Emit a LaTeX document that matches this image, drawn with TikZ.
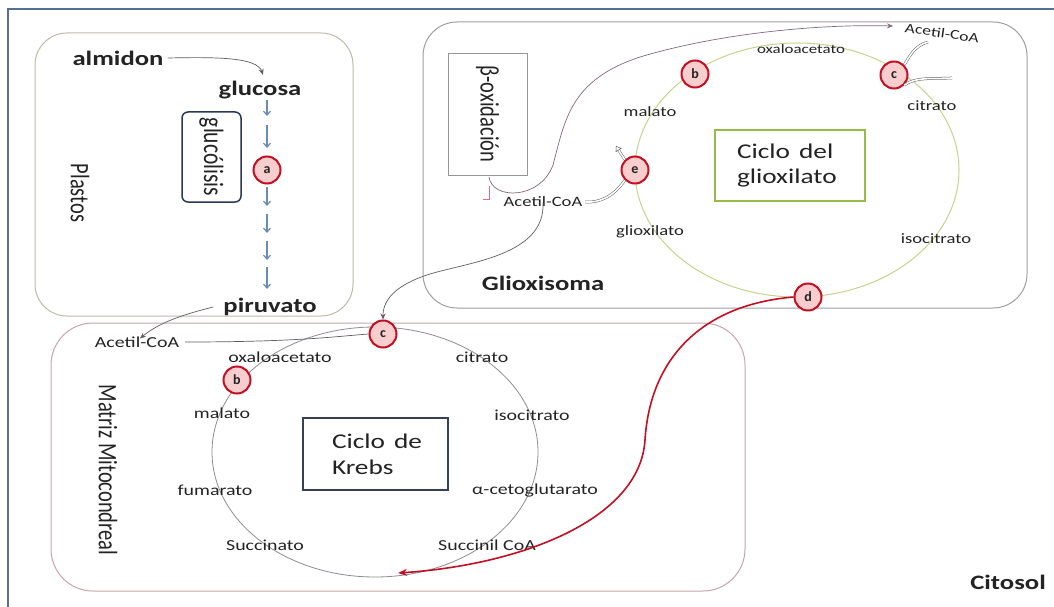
\documentclass[tikz,border=0pt]{standalone}
\usepackage{fontspec}
\setmainfont{Carlito}
\usetikzlibrary{arrows.meta}
\newcommand{\hs}[1]{\scalebox{1.3}[1]{#1}}
\newcommand{\vs}[1]{\scalebox{1}[1.3]{#1}}
\definecolor{frameblue}{RGB}{85,112,150}
\definecolor{plasc}{RGB}{190,186,168}
\definecolor{glioc}{RGB}{160,158,162}
\definecolor{mitoc}{RGB}{200,165,172}
\definecolor{betac}{RGB}{150,150,150}
\definecolor{gcycbox}{RGB}{150,188,70}
\definecolor{krebsbox}{RGB}{55,65,82}
\definecolor{glubc}{RGB}{40,55,90}
\definecolor{glyc}{RGB}{200,210,140}
\definecolor{krebc}{RGB}{140,140,148}
\definecolor{redc}{RGB}{195,15,35}
\definecolor{pinkc}{RGB}{248,205,205}
\definecolor{connc}{RGB}{95,95,100}
\definecolor{betaconn}{RGB}{130,105,125}
\definecolor{glyarrow}{RGB}{105,140,175}
\definecolor{textc}{RGB}{35,35,35}
\definecolor{ticc}{RGB}{225,110,130}
\begin{document}
\begin{tikzpicture}[x=1pt,y=-1pt,
  txt/.style={inner sep=0pt, text=textc},
  big/.style={txt, font=\bfseries\fontsize{20.5}{24}\selectfont},
  smG/.style={txt, font=\fontsize{14.3}{16}\selectfont},
  smK/.style={txt, font=\fontsize{15.3}{17}\selectfont},
  side/.style={txt, rotate=-90, font=\fontsize{20.5}{24}\selectfont},
  letterc/.style={circle, draw=redc, line width=2pt, fill=pinkc, minimum size=27pt, inner sep=0pt, text=textc, font=\bfseries\fontsize{14}{14}\selectfont},
  conn/.style={draw=connc, line width=0.7pt},
  tipa/.style={-{Stealth[length=6pt,width=5pt]}},
  hollow/.style={draw=connc, double=white, double distance=1.6pt, line width=0.5pt},
  glyarr/.style={draw=glyarrow, line width=1.2pt, -{Straight Barb[length=4pt,width=7pt]}},
]
\useasboundingbox (0,0) rectangle (1054,607);
\fill[white] (0,0) rectangle (1054,607);

% outer frame
\draw[frameblue, line width=2.5pt] (8,607) -- (8,9) -- (1054,9);

% compartments
\draw[plasc, line width=1pt, rounded corners=32pt] (35,33) rectangle (353,316);
\draw[glioc, line width=1pt, rounded corners=34pt] (423,22) rectangle (1027,308);
\draw[mitoc, line width=1pt, rounded corners=42pt] (51,323) rectangle (745,591);

% cycles
\draw[glyc, line width=1pt] (797,170) ellipse [x radius=162pt, y radius=127pt];
\draw[krebc, line width=0.8pt] (375,452) ellipse [x radius=163pt, y radius=125pt];

% boxes
\node[rotate=-90, draw=glubc, line width=1.5pt, rounded corners=6pt, minimum width=90pt, minimum height=59pt, inner sep=0pt, text=textc, font=\fontsize{21.5}{24}\selectfont] (glucolisis) at (211.5,157) {\vs{glucólisis}};
\node[rotate=-90, draw=betac, line width=0.8pt, minimum width=122pt, minimum height=79pt, inner sep=0pt, text=textc, font=\fontsize{20.5}{24}\selectfont] (betaox) at (487.5,114) {\vs{β-oxidación}};
\node[draw=gcycbox, line width=1.5pt, minimum width=150pt, minimum height=71pt, inner xsep=22pt, inner ysep=0pt, text width=106pt, align=left, text=textc, font=\fontsize{21}{25}\selectfont] (glyoxbox) at (790,165.5) {\hs{Ciclo del}\\\hs{glioxilato}};
\node[draw=krebsbox, line width=1.5pt, minimum width=145pt, minimum height=72pt, inner xsep=29pt, inner ysep=0pt, text width=87pt, align=left, text=textc, font=\fontsize{21}{26}\selectfont] (krebsbox) at (375.5,454) {\hs{Ciclo de}\\\hs{Krebs}};

% big labels
\node[big] (almidon) at (118,58) {\hs{almidon}};
\node[big] (glucosa) at (260,90) {\hs{glucosa}};
\node[big] (piruvato) at (270,307) {\hs{piruvato}};
\node[big] (glioxisoma) at (543,283) {\hs{Glioxisoma}};
\node[big] (citosol) at (1008,582) {\hs{Citosol}};
\node[side] (plastos) at (80,193) {\vs{Plastos}};
\node[side] (matriz) at (108,470) {\vs{Matriz Mitocondreal}};

% glyoxylate cycle labels
\node[txt, font=\fontsize{13}{15}\selectfont] (ocG) at (801,49) {\hs{oxaloacetato}};
\node[smG] (citG) at (932,106) {\hs{citrato}};
\node[smG] (isoG) at (936,239) {\hs{isocitrato}};
\node[smG] (gliG) at (650,232) {\hs{glioxilato}};
\node[smG] (malG) at (650,112) {\hs{malato}};
\node[smG] (acG) at (543,202) {\hs{Acetil-CoA}};
\node[txt, rotate=-8, font=\fontsize{13.6}{15}\selectfont] (acTop) at (942,33) {\hs{Acetil-CoA}};

% Krebs labels
\node[smK] (acK) at (137,342) {\hs{Acetil-CoA}};
\node[smK] (oxK) at (280,357) {\hs{oxaloacetato}};
\node[smK] (malK) at (222,413) {\hs{malato}};
\node[smK] (fumK) at (215,490) {\hs{fumarato}};
\node[smK] (sucK) at (265,545) {\hs{Succinato}};
\node[smK] (scoaK) at (487,545) {\hs{Succinil CoA}};
\node[smK] (akgK) at (535,490) {\hs{α-cetoglutarato}};
\node[smK] (isoK) at (532,415) {\hs{isocitrato}};
\node[smK] (citK) at (482,357) {\hs{citrato}};

% enzyme circles
\node[letterc] (a) at (267,170) {a};
\node[letterc] (bG) at (695,74) {b};
\node[letterc] (cG) at (894,75) {c};
\node[letterc] (dG) at (808,297) {d};
\node[letterc] (eG) at (635,170) {e};
\node[letterc] (bK) at (237,380) {b};
\node[letterc] (cK) at (383,334) {c};

% glycolysis arrows
\coordinate (g1) at (267,100); \coordinate (g2) at (267,116);
\coordinate (g3) at (267,125); \coordinate (g4) at (267,148);
\coordinate (g5) at (267,187); \coordinate (g6) at (267,206);
\coordinate (g7) at (267,214); \coordinate (g8) at (267,233);
\coordinate (g9) at (267,241); \coordinate (g10) at (267,260);
\coordinate (g11) at (267,267); \coordinate (g12) at (267,289);
\draw[glyarr] (g1) -- (g2);
\draw[glyarr] (g3) -- (g4);
\draw[glyarr] (g5) -- (g6);
\draw[glyarr] (g7) -- (g8);
\draw[glyarr] (g9) -- (g10);
\draw[glyarr] (g11) -- (g12);

% connectors
\draw[conn, tipa] ([xshift=4pt]almidon.east) .. controls (215,57) and (257,57) .. ([shift={(3,-6)}]glucosa.north);
\draw[conn, tipa] ([xshift=-10pt]piruvato.west) .. controls (185,314) and (160,322) .. ([xshift=3pt,yshift=-2pt]acK.north);
\draw[conn] ([xshift=6pt]acK.east) .. controls (300,342) and (340,336) .. (cK.west);
\draw[conn, tipa] ([yshift=4pt]acG.south) .. controls (545,255) and (470,262) .. (430,274) .. controls (395,285) and (383,300) .. (cK.north);
\coordinate (betaend) at (893,26);
\draw[draw=betaconn, line width=0.7pt, tipa] (489,177) .. controls (492,200) and (540,200) .. (553,165) .. controls (565,120) and (570,80) .. (640,57) .. controls (720,33) and (820,24) .. (betaend);
\draw[ticc, line width=0.9pt] (489,186) -- (489,199) -- (483,199);

% hollow arrows
\coordinate (eout) at (616,146);
\draw[hollow] ([xshift=3pt]acG.east) .. controls (600,203) and (614,196) .. (eG.south west);
\draw[hollow, -{Triangle[open,length=5pt,width=7pt]}] (eG.north west) -- (eout);
\coordinate (cGout1) at (928,42);
\coordinate (cGout2) at (952,78);
\draw[hollow] (cG.north east) .. controls (910,56) and (914,46) .. (cGout1);
\draw[hollow] (cG.south east) .. controls (915,77) and (930,79) .. (cGout2);

% red arrow
\coordinate (kbot) at (398,573);
\draw[redc, line width=1.6pt, -{Stealth[length=9pt,width=7pt]}] (dG.west) .. controls (700,305) and (650,360) .. (645,440) .. controls (640,520) and (520,565) .. (kbot);
\end{tikzpicture}
\end{document}
